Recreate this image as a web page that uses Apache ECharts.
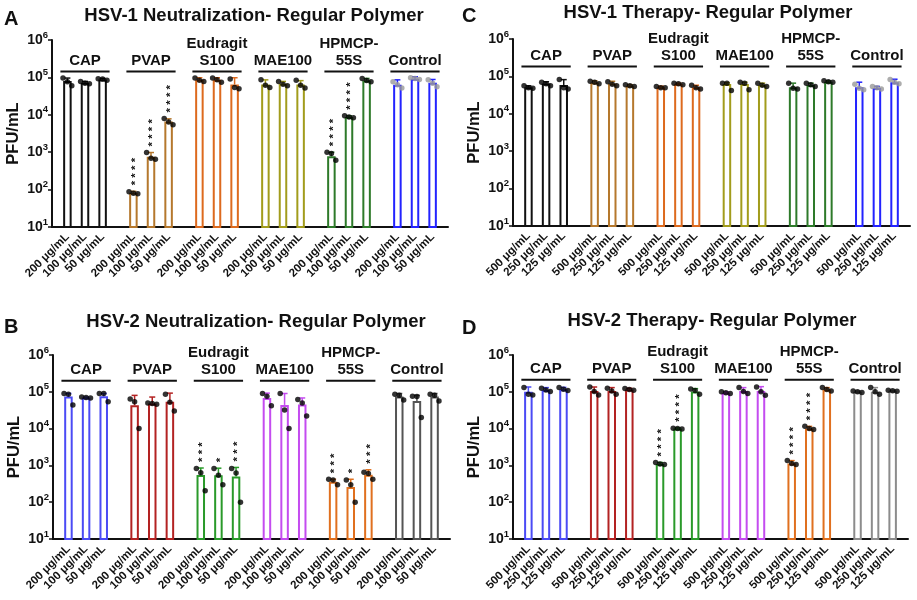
<!DOCTYPE html>
<html>
<head>
<meta charset="utf-8">
<script src="https://cdn.jsdelivr.net/npm/echarts@6/dist/echarts.min.js"></script>
<style>
  html, body { margin: 0; background: #fff; }
  #chart { width: 917px; height: 600px; }
</style>
</head>
<body>
<div id="chart"></div>
<script>
const groups = ['CAP', 'PVAP', 'Eudragit\nS100', 'MAE100', 'HPMCP-\n55S', 'Control']
const concNeut = ['200 μg/mL', '100 μg/mL', '50 μg/mL']
const concTher = ['500 μg/mL', '250 μg/mL', '125 μg/mL']

// A: HSV-1 neutralization
const meanA = [8.0e4, 7.2e4, 8.8e4, 82, 760, 6.6e3, 8.6e4, 8.6e4, 6.5e4, 6.5e4, 6.8e4, 6.5e4, 780, 8.8e3, 8.2e4, 6.4e4, 9.2e4, 7.2e4]
const errA = [9.6e4, 7.8e4, 9.4e4, 90, 980, 7.8e3, 9.8e4, 9.8e4, 9.8e4, 8.6e4, 7.8e4, 8.2e4, 1.0e3, 9.4e3, 9.4e4, 8.6e4, 1.04e5, 8.8e4]
const ptsA = [[9.6e4, 7.6e4, 6.0e4], [7.8e4, 7.0e4, 6.8e4], [9.2e4, 9.0e4, 8.4e4], [88, 80, 78], [980, 690, 650], [8.0e3, 6.4e3, 5.4e3],
  [9.6e4, 8.4e4, 7.8e4], [9.6e4, 8.6e4, 7.4e4], [9.0e4, 5.4e4, 5.0e4], [8.6e4, 6.2e4, 5.4e4], [7.8e4, 6.6e4, 6.0e4], [8.4e4, 6.2e4, 5.2e4],
  [1.0e3, 920, 610], [9.4e3, 8.8e3, 8.4e3], [9.4e4, 8.2e4, 7.6e4], [7.6e4, 6.4e4, 5.2e4], [9.8e4, 9.4e4, 8.8e4], [8.6e4, 7.0e4, 5.6e4]]
const starsA = ['', '', '', '****', '****', '****', '', '', '', '', '', '', '****', '****', '', '', '', '']

// B: HSV-2 neutralization
const meanB = [7.4e4, 7.0e4, 7.6e4, 4.3e4, 4.8e4, 5.4e4, 550, 540, 500, 6.8e4, 4.4e4, 4.5e4, 360, 260, 560, 7.4e4, 5.6e4, 7.4e4]
const errB = [9.0e4, 7.2e4, 9.0e4, 8.0e4, 7.2e4, 9.2e4, 850, 840, 880, 9.2e4, 9.0e4, 6.8e4, 420, 420, 760, 9.0e4, 8.0e4, 9.0e4]
const ptsB = [[9.0e4, 8.6e4, 4.4e4], [7.2e4, 7.0e4, 6.8e4], [9.0e4, 9.0e4, 5.4e4], [6.4e4, 5.4e4, 1.0e4], [5.0e4, 4.8e4, 4.6e4], [8.6e4, 5.2e4, 3.0e4],
  [830, 630, 205], [820, 540, 300], [820, 620, 100], [9.0e4, 7.6e4, 4.2e4], [9.0e4, 3.2e4, 1.0e4], [6.2e4, 5.0e4, 2.2e4],
  [420, 400, 300], [400, 300, 100], [650, 600, 420], [8.6e4, 8.0e4, 6.0e4], [7.6e4, 7.4e4, 2.0e4], [8.6e4, 8.0e4, 5.6e4]]
const starsB = ['', '', '', '', '', '', '***', '*', '***', '', '', '', '***', '*', '***', '', '', '']

// C: HSV-1 therapy
const meanC = [5.1e4, 6.5e4, 5.9e4, 6.9e4, 6.5e4, 5.6e4, 5.1e4, 6.3e4, 5.1e4, 6.3e4, 6.3e4, 5.9e4, 5.1e4, 5.9e4, 7.2e4, 5.1e4, 4.9e4, 7.0e4]
const errC = [5.6e4, 7.2e4, 8.2e4, 7.6e4, 7.4e4, 6.0e4, 5.5e4, 6.6e4, 5.8e4, 6.8e4, 7.0e4, 6.6e4, 6.6e4, 6.6e4, 7.6e4, 7.0e4, 5.4e4, 8.4e4]
const ptsC = [[5.6e4, 5.0e4, 4.8e4], [7.0e4, 6.4e4, 5.6e4], [8.2e4, 5.0e4, 4.6e4], [7.4e4, 7.0e4, 6.4e4], [7.2e4, 6.2e4, 5.6e4], [6.0e4, 5.6e4, 5.4e4],
  [5.4e4, 5.0e4, 5.0e4], [6.6e4, 6.4e4, 6.0e4], [5.8e4, 5.0e4, 4.6e4], [6.6e4, 6.6e4, 4.2e4], [7.0e4, 6.6e4, 4.4e4], [6.6e4, 5.8e4, 5.4e4],
  [6.6e4, 4.8e4, 4.6e4], [6.6e4, 6.0e4, 5.4e4], [7.6e4, 7.2e4, 7.0e4], [6.2e4, 4.8e4, 4.4e4], [5.4e4, 5.0e4, 4.6e4], [8.2e4, 7.0e4, 6.4e4]]
const starsC = new Array(18).fill('')

// D: HSV-2 therapy
const meanD = [1.0e5, 1.12e5, 1.18e5, 1.05e5, 1.05e5, 1.15e5, 1.1e3, 1.0e4, 1.02e5, 9.4e4, 1.05e5, 1.05e5, 1.12e3, 1.0e4, 1.15e5, 1.0e5, 1.0e5, 1.06e5]
const errD = [1.35e5, 1.3e5, 1.32e5, 1.35e5, 1.3e5, 1.25e5, 1.2e3, 1.05e4, 1.22e5, 1.0e5, 1.3e5, 1.38e5, 1.35e3, 1.15e4, 1.3e5, 1.05e5, 1.3e5, 1.1e5]
const ptsD = [[1.3e5, 8.6e4, 8.2e4], [1.25e5, 1.12e5, 1.02e5], [1.3e5, 1.18e5, 1.08e5], [1.35e5, 1.02e5, 8.2e4], [1.25e5, 1.05e5, 8.6e4], [1.22e5, 1.15e5, 1.1e5],
  [1.2e3, 1.1e3, 1.05e3], [1.02e4, 1.0e4, 9.8e3], [1.2e5, 1.08e5, 8.6e4], [1.0e5, 9.4e4, 9.0e4], [1.3e5, 1.02e5, 9.0e4], [1.35e5, 1.0e5, 8.0e4],
  [1.35e3, 1.12e3, 1.05e3], [1.15e4, 1.0e4, 9.4e3], [1.3e5, 1.15e5, 1.05e5], [1.05e5, 1.0e5, 9.6e4], [1.3e5, 1.0e5, 8.6e4], [1.1e5, 1.06e5, 1.04e5]]
const starsD = ['', '', '', '', '', '', '****', '****', '', '', '', '', '****', '****', '', '', '', '']

const FONT = 'Arial, "Liberation Sans", sans-serif'
const INK = '#111'

const panels = [
  {
    letter: 'A', title: 'HSV-1 Neutralization- Regular Polymer', titleXY: [254, 16], letterXY: [4, 19],
    grid: { left: 52, top: 40, width: 396, height: 187 }, headGap: 6, conc: concNeut,
    colours: ['#111111', '#b5782d', '#dd6a1e', '#a29c1c', '#2e7a2a', '#2323ff'],
    dots: ['#000', '#000', '#000', '#000', '#000', '#999'],
    mean: meanA, err: errA, pts: ptsA, stars: starsA
  },
  {
    letter: 'B', title: 'HSV-2 Neutralization- Regular Polymer', titleXY: [256, 322], letterXY: [4, 327],
    grid: { left: 53, top: 355, width: 397, height: 184 }, headGap: 11, conc: concNeut,
    colours: ['#4b4bf5', '#b32222', '#2a9a2a', '#c44cf0', '#e0701f', '#555555'],
    dots: ['#000', '#000', '#000', '#000', '#000', '#000'],
    mean: meanB, err: errB, pts: ptsB, stars: starsB
  },
  {
    letter: 'C', title: 'HSV-1 Therapy- Regular Polymer', titleXY: [708, 13], letterXY: [462, 16],
    grid: { left: 513, top: 39, width: 397, height: 187 }, headGap: 10, conc: concTher,
    colours: ['#111111', '#b5782d', '#dd6a1e', '#a29c1c', '#2e7a2a', '#2323ff'],
    dots: ['#000', '#000', '#000', '#000', '#000', '#999'],
    mean: meanC, err: errC, pts: ptsC, stars: starsC
  },
  {
    letter: 'D', title: 'HSV-2 Therapy- Regular Polymer', titleXY: [712, 321], letterXY: [462, 328],
    grid: { left: 513, top: 355, width: 395, height: 184 }, headGap: 12, conc: concTher,
    colours: ['#4b4bf5', '#b32222', '#2a9a2a', '#c44cf0', '#e0701f', '#8c8c8c'],
    dots: ['#000', '#000', '#000', '#000', '#000', '#000'],
    mean: meanD, err: errD, pts: ptsD, stars: starsD
  }
]

// 90 narrow categories per panel: bars sit on every 4th slot, groups 15 slots apart
const N_CAT = 90
const barCat = j => 3 + 15 * Math.floor(j / 3) + 4 * (j % 3)
const showCat = (i, v) => v !== ''

function categories(conc) {
  const cats = new Array(N_CAT).fill('')
  for (let j = 0; j < 18; j++) cats[barCat(j)] = conc[j % 3]
  return cats
}

const grids = [], xAxes = [], yAxes = [], series = [], graphics = []

panels.forEach((p, pi) => {
  grids.push(p.grid)
  xAxes.push({
    type: 'category', gridIndex: pi, data: categories(p.conc), boundaryGap: true,
    axisLine: { onZero: false, lineStyle: { color: INK, width: 2 } },
    axisTick: { alignWithLabel: true, interval: showCat, length: 4, lineStyle: { color: INK, width: 1.5 } },
    axisLabel: { interval: showCat, rotate: 45, margin: 8, fontSize: 11.5, fontWeight: 'bold', color: INK, fontFamily: FONT }
  })
  yAxes.push({
    type: 'log', gridIndex: pi, logBase: 10, min: 10, max: 1e6,
    name: 'PFU/mL', nameLocation: 'middle', nameGap: 30,
    nameTextStyle: { fontSize: 16.5, fontWeight: 'bold', color: INK, fontFamily: FONT },
    axisLine: { show: true, lineStyle: { color: INK, width: 2 } },
    axisTick: { show: true, length: 4, lineStyle: { color: INK, width: 1.5 } },
    splitLine: { show: false },
    axisLabel: {
      margin: 4,
      formatter: v => '{n|10}{s|' + Math.round(Math.log10(v)) + '}',
      rich: {
        n: { fontSize: 14, fontWeight: 'bold', color: INK, fontFamily: FONT, lineHeight: 20 },
        s: { fontSize: 9.5, fontWeight: 'bold', color: INK, fontFamily: FONT, verticalAlign: 'top', lineHeight: 11 }
      }
    }
  })

  const ax = { xAxisIndex: pi, yAxisIndex: pi }

  // bars
  series.push({
    type: 'bar', ...ax, barWidth: 8.5, z: 2, silent: true,
    data: p.mean.map((v, j) => ({
      value: [barCat(j), v],
      itemStyle: { color: '#fff', borderColor: p.colours[Math.floor(j / 3)], borderWidth: 2 }
    }))
  })

  // upper error bars
  series.push({
    type: 'custom', ...ax, z: 3, silent: true,
    data: p.mean.map((v, j) => [barCat(j), v, p.err[j]]),
    renderItem(params, api) {
      const base = api.coord([api.value(0), api.value(1)])
      const top = api.coord([api.value(0), api.value(2)])
      const stroke = p.colours[Math.floor(params.dataIndex / 3)]
      return {
        type: 'group', children: [
          { type: 'line', shape: { x1: top[0], y1: base[1], x2: top[0], y2: top[1] }, style: { stroke, lineWidth: 1.5 } },
          { type: 'line', shape: { x1: top[0] - 3, y1: top[1], x2: top[0] + 3, y2: top[1] }, style: { stroke, lineWidth: 1.5 } }
        ]
      }
    }
  })

  // replicate points
  const pts = []
  p.pts.forEach((trip, j) => trip.forEach((v, t) => pts.push({
    value: [barCat(j) + t - 1, v],
    itemStyle: { color: p.dots[Math.floor(j / 3)] }
  })))
  series.push({ type: 'scatter', ...ax, z: 4, silent: true, symbolSize: 5.5, data: pts })

  // significance stars
  const starText = [], starData = []
  p.stars.forEach((s, j) => {
    if (!s) return
    starText.push(s.split('').join(' '))
    starData.push([barCat(j), Math.max(p.err[j], ...p.pts[j])])
  })
  series.push({
    type: 'custom', ...ax, z: 5, silent: true, data: starData,
    renderItem(params, api) {
      const c = api.coord([api.value(0), api.value(1)])
      return {
        type: 'text', x: c[0] + 2, y: c[1] - 6, rotation: Math.PI / 2,
        style: { text: starText[params.dataIndex], font: 'bold 11.5px ' + FONT, fill: INK, textAlign: 'left', textVerticalAlign: 'middle', align: 'left', verticalAlign: 'middle' }
      }
    }
  })

  // group headers with underline
  series.push({
    type: 'custom', ...ax, z: 5, silent: true,
    data: groups.map((g, gi) => [barCat(gi * 3), 1e5, barCat(gi * 3 + 2)]),
    renderItem(params, api) {
      const a = api.coord([api.value(0), api.value(1)])
      const b = api.coord([api.value(2), api.value(1)])
      const y = a[1] - p.headGap
      return {
        type: 'group', children: [
          { type: 'line', shape: { x1: a[0] - 7, y1: y, x2: b[0] + 7, y2: y }, style: { stroke: INK, lineWidth: 2 } },
          {
            type: 'text', x: (a[0] + b[0]) / 2, y: y - 2,
            style: { text: groups[params.dataIndex], font: 'bold 15px ' + FONT, fill: INK, lineHeight: 17, textAlign: 'center', textVerticalAlign: 'bottom', align: 'center', verticalAlign: 'bottom' }
          }
        ]
      }
    }
  })

  graphics.push({
    type: 'text', x: p.titleXY[0], y: p.titleXY[1],
    style: { text: p.title, font: 'bold 18.5px ' + FONT, fill: INK, textAlign: 'center', textVerticalAlign: 'middle', align: 'center', verticalAlign: 'middle' }
  })
  graphics.push({
    type: 'text', x: p.letterXY[0], y: p.letterXY[1],
    style: { text: p.letter, font: 'bold 20px ' + FONT, fill: INK, textAlign: 'left', textVerticalAlign: 'middle', align: 'left', verticalAlign: 'middle' }
  })
})

const chart = echarts.init(document.getElementById('chart'))
chart.setOption({
  backgroundColor: '#fff',
  animation: false,
  grid: grids,
  xAxis: xAxes,
  yAxis: yAxes,
  series,
  graphic: graphics
})
</script>
</body>
</html>
